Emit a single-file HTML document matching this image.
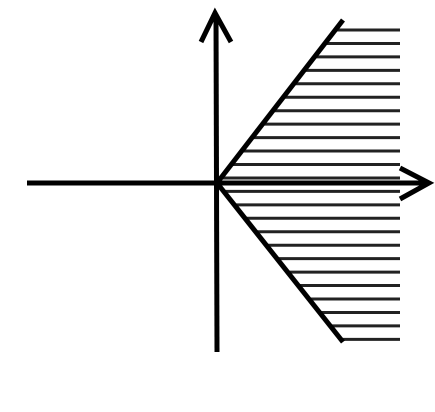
<!DOCTYPE html>
<html><head><meta charset="utf-8"><style>html,body{margin:0;padding:0;background:#fff;}svg{display:block;}</style></head>
<body>
<svg width="435" height="412" viewBox="0 0 435 412">
<g id="hatch"></g>
<line x1="217" y1="183" x2="343" y2="20" stroke="#000" stroke-width="5"/>
<line x1="217" y1="183" x2="343" y2="342" stroke="#000" stroke-width="5"/>
<line x1="27" y1="183" x2="428" y2="183" stroke="#000" stroke-width="5"/>
<polyline points="400,168 429,183 400,199" fill="none" stroke="#000" stroke-width="5"/>
<line x1="216" y1="14" x2="217" y2="352" stroke="#000" stroke-width="5"/>
<polyline points="201,42 215,13 231,42" fill="none" stroke="#000" stroke-width="5"/>
</svg>
<script>
const hatchRows = [0,1,2,3,4,5,6,7,8,9,10,11,12,13,14,15,16,17,18,19,20,21,22,23];
const g = document.getElementById('hatch');
const ox = 217, oy = 183, y0 = 30, step = 13.45, xr = 400;
hatchRows.forEach(k => {
  const y = y0 + k * step;
  let xl;
  if (y < oy) xl = ox + (oy - y) * (126 / 163);
  else xl = ox + (y - oy) * (126 / 159);
  const l = document.createElementNS('http://www.w3.org/2000/svg', 'line');
  l.setAttribute('x1', xl); l.setAttribute('x2', xr);
  l.setAttribute('y1', y); l.setAttribute('y2', y);
  l.setAttribute('stroke', '#222'); l.setAttribute('stroke-width', '3');
  
  
  g.appendChild(l);
});
</script>
</body></html>
